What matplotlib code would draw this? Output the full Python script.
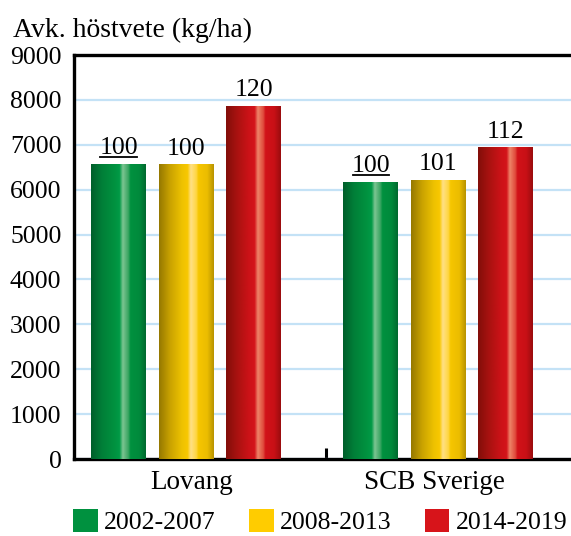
import numpy as np
import matplotlib
matplotlib.use("Agg")
import matplotlib.pyplot as plt
from matplotlib.colors import LinearSegmentedColormap
from matplotlib.patches import Patch

plt.rcParams['font.family'] = ['Liberation Serif', 'DejaVu Serif']

categories = ["Lovang", "SCB Sverige"]
periods = ["2002-2007", "2008-2013", "2014-2019"]
yields = {
    "2002-2007": [6570, 6170],
    "2008-2013": [6550, 6210],
    "2014-2019": [7860, 6930],
}
index_labels = {
    "2002-2007": ["100", "100"],
    "2008-2013": ["100", "101"],
    "2014-2019": ["120", "112"],
}
base_colors = ["#00913f", "#ffcc00", "#d7141a"]
gradients = [
    ["#005e2b", "#007f38", "#00913f", "#009a46", "#7cc592", "#3aa562", "#00913f", "#008a3c", "#00692f"],
    ["#957800", "#c9a200", "#eec200", "#f8c800", "#ffe086", "#ffd642", "#f6c600", "#ebbd00", "#b89300"],
    ["#820e09", "#a81210", "#cc1218", "#d4141a", "#ee8468", "#e04a3c", "#d21219", "#c81016", "#9a0c0e"],
]
stops = [0.0, 0.2, 0.42, 0.52, 0.58, 0.68, 0.72, 0.88, 1.0]

fig = plt.figure(figsize=(5.71, 5.36), dpi=100)
ax = fig.add_axes([74 / 571, 1 - 459 / 536, 504 / 571, (459 - 55) / 536])

width = 0.218
step = 0.268
centers = np.array([0.445, 1.446])
grad = np.linspace(0, 1, 256).reshape(1, -1)
underlined = []

for k, p in enumerate(periods):
    xs = centers + (k - 1) * step
    bars = ax.bar(xs, yields[p], width, color=base_colors[k], zorder=3, label=p)
    cmap = LinearSegmentedColormap.from_list("g%d" % k, list(zip(stops, gradients[k])))
    for b, lab in zip(bars, index_labels[p]):
        x0, y0 = b.get_x(), b.get_y()
        ax.imshow(grad, cmap=cmap, aspect='auto', zorder=4,
                  extent=[x0, x0 + b.get_width(), y0, y0 + b.get_height()])
        t = ax.text(x0 + b.get_width() / 2, b.get_height() + 110, lab,
                    ha='center', va='bottom', fontsize=18.5, zorder=5)
        if k == 0:
            underlined.append(t)

ax.set_xlim(0, 2)
ax.set_ylim(0, 9000)
ax.set_yticks(range(0, 9001, 1000))
ax.yaxis.grid(True, color='#c4e2f6', linewidth=1.6, zorder=0)
ax.set_axisbelow(True)
ax.tick_params(axis='y', length=0, pad=9, labelsize=18.5)
ax.set_xticks([0.468, 1.429])
ax.set_xticklabels(categories, fontsize=19.5)
ax.tick_params(axis='x', length=0, pad=8)
ax.set_xticks([1.0], minor=True)
ax.tick_params(axis='x', which='minor', direction='in', length=8, width=2.2)
for s in ['left', 'bottom', 'top']:
    ax.spines[s].set_linewidth(2.4)
ax.spines['right'].set_visible(False)

fig.text(13 / 571, 1 - 37 / 536, "Avk. höstvete (kg/ha)", fontsize=20, va='baseline')

handles = [Patch(facecolor=c, edgecolor='none') for c in base_colors]
fig.legend(handles, periods, loc='lower left', bbox_to_anchor=(63 / 571, -0.016),
           ncol=3, frameon=False, fontsize=18.5, handlelength=0.95, handleheight=0.95,
           handletextpad=0.25, columnspacing=1.3, borderaxespad=0)

# underline the base-period labels
fig.canvas.draw()
r = fig.canvas.get_renderer()
inv = ax.transData.inverted()
for t in underlined:
    bb = t.get_window_extent(r)
    (xa, ya), (xb, _) = inv.transform([(bb.x0 + 1, bb.y0 + 2), (bb.x1 - 1, bb.y0 + 2)])
    ax.plot([xa, xb], [ya, ya], color='black', linewidth=1.3, zorder=5)

fig.savefig("out.png", dpi=100)
